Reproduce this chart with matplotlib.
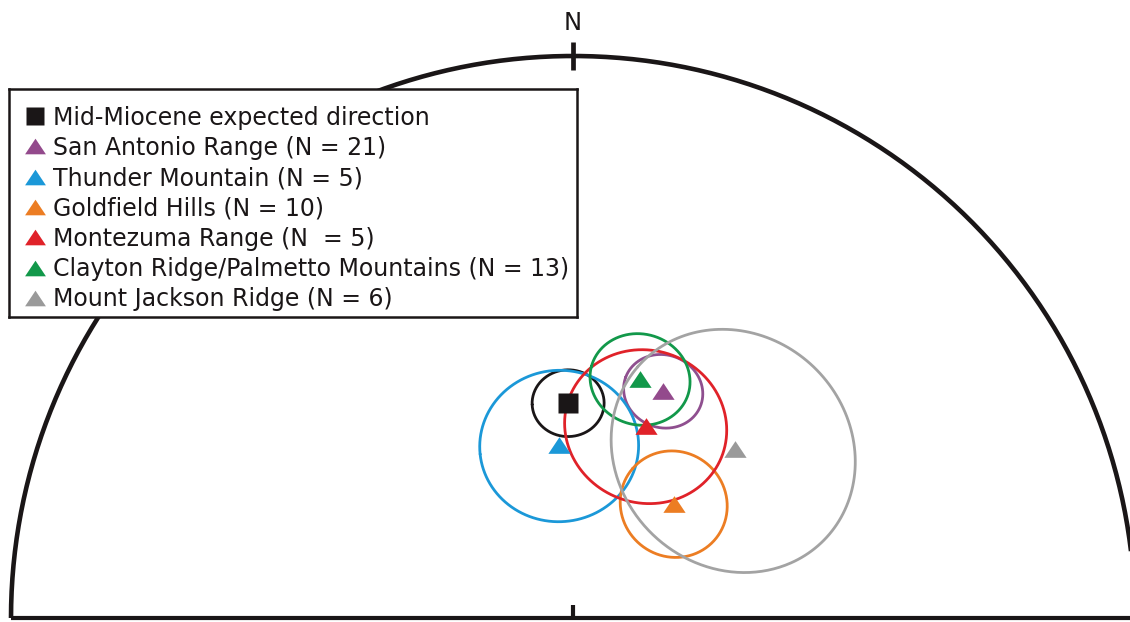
import numpy as np
import matplotlib.pyplot as plt
from matplotlib.path import Path

# site means (declination, inclination) and alpha95, all in degrees
names = ["Mid-Miocene expected direction",
         "San Antonio Range (N = 21)",
         "Thunder Mountain (N = 5)",
         "Goldfield Hills (N = 10)",
         "Montezuma Range (N  = 5)",
         "Clayton Ridge/Palmetto Mountains (N = 13)",
         "Mount Jackson Ridge (N = 6)"]
dec = [358.7, 21.7, 355.4, 41.5, 20.8, 15.7, 43.8]
inc = [58.6, 54.2, 64.8, 67.9, 60.0, 53.6, 55.7]
a95 = [5.0, 5.5, 11.2, 7.7, 11.4, 6.9, 17.6]

colors = ["#1a1617", "#934a8c", "#1b98d8", "#ec7d23", "#e02229", "#12984a", "#9a9a9a"]
ring_colors = ["#1a1617", "#8f4f8f", "#1b98d8", "#ec7d23", "#e02229", "#12984a", "#a3a3a3"]
INK = "#1a1617"

tri = Path([(-1, -0.75), (1, -0.75), (0, 0.75), (-1, -0.75)],
           [Path.MOVETO, Path.LINETO, Path.LINETO, Path.CLOSEPOLY])
markers = ["s"] + [tri] * 6
sizes = [14.5] + [16] * 6


def to_vec(d, i):
    d, i = np.radians(d), np.radians(i)
    return np.array([np.cos(i) * np.cos(d), np.cos(i) * np.sin(d), np.sin(i)])


def project(v):
    # lower hemisphere equal-area (Schmidt), x = east, y = north
    x, y, z = v
    r = np.sqrt(1 - z)
    h = np.hypot(x, y)
    return r * y / h, r * x / h


def small_circle(d, i, a, n=361):
    m = to_vec(d, i)
    u = np.cross(m, [0, 0, 1.0])
    u /= np.linalg.norm(u)
    w = np.cross(m, u)
    phi = np.linspace(0, 2 * np.pi, n)
    a = np.radians(a)
    pts = (np.cos(a) * m[:, None]
           + np.sin(a) * (np.cos(phi) * u[:, None] + np.sin(phi) * w[:, None]))
    return project(pts)


fig = plt.figure(figsize=(11.3, 6.22), dpi=100)
ax = fig.add_axes([0, 0, 1, 1])
ax.set_xlim(-573 / 562, 557 / 562)
ax.set_ylim(-4 / 562, 618 / 562)
ax.set_aspect("equal")
ax.axis("off")

# primitive (northern half) and base line
t = np.linspace(0, np.pi, 400)
ax.plot(np.cos(t), np.sin(t), color=INK, lw=3.3, solid_capstyle="butt")
ax.plot([-1, 1.05], [0, 0], color=INK, lw=3.0, solid_capstyle="butt")
ax.plot([0, 0], [0.975, 1.025], color=INK, lw=3.4, solid_capstyle="butt")
ax.plot([0, 0], [0, 0.024], color=INK, lw=3.0, solid_capstyle="butt")
ax.text(0, 1.046, "N", ha="center", va="baseline", fontsize=17.5, color=INK)

# alpha95 cones, then the mean directions on top
for k in range(len(names)):
    cx, cy = small_circle(dec[k], inc[k], a95[k])
    ax.plot(cx, cy, color=ring_colors[k], lw=2.0, zorder=2,
            solid_capstyle="round", solid_joinstyle="round")
for k in range(len(names)):
    px, py = project(to_vec(dec[k], inc[k]))
    ax.plot(px, py, ls="none", marker=markers[k], ms=sizes[k], color=colors[k],
            mec="none", zorder=4)

# key box, drawn in its own axes in pixel units
lax = fig.add_axes([9 / 1130, 1 - 317 / 622, 568 / 1130, 228 / 622])
lax.set_xlim(0, 568)
lax.set_ylim(228, 0)
lax.set_xticks([])
lax.set_yticks([])
for sp in lax.spines.values():
    sp.set_color(INK)
    sp.set_linewidth(1.8)
for k, label in enumerate(names):
    row = 27 + 30.3 * k
    lax.plot(26, row, ls="none", marker=markers[k], ms=sizes[k] - 1,
             color=colors[k], mec="none")
    lax.text(44, row + 8.5, label, fontsize=17, color=INK, va="baseline")

fig.savefig("out.png", dpi=100)
